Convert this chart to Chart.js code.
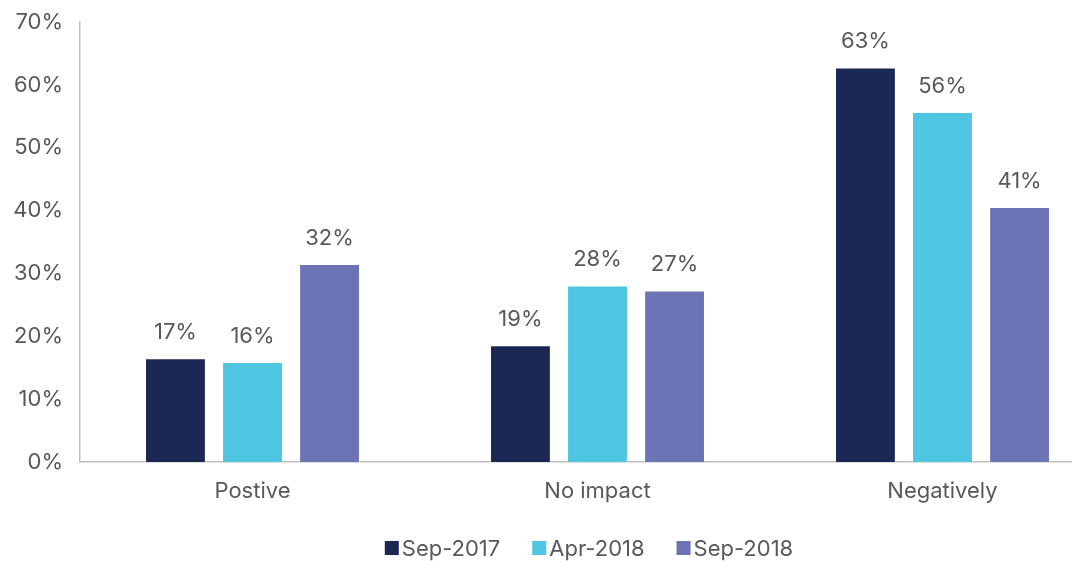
<!DOCTYPE html>
<html>
<head>
<meta charset="utf-8">
<script src="https://cdn.jsdelivr.net/npm/chart.js@4.4.1/dist/chart.umd.min.js"></script>
<style>
  html, body { margin: 0; padding: 0; background: #fff; overflow: hidden; }
  #wrap { position: absolute; left: 0; top: 0; width: 1115px; height: 564px; }
</style>
</head>
<body>
<div id="wrap"><canvas id="chart"></canvas></div>
<script>
const categories = ['Postive', 'No impact', 'Negatively'];
const seriesNames = ['Sep-2017', 'Apr-2018', 'Sep-2018'];
const sep2017 = [16.5, 18.6, 62.8];
const apr2018 = [15.9, 28.1, 55.7];
const sep2018 = [31.5, 27.3, 40.6];
const yTicks = [0, 10, 20, 30, 40, 50, 60, 70];
const colors = ['#1c2854', '#4ec6e2', '#6c74b6'];

const FONT = 'Inter, "Noto Sans", sans-serif';
const TEXT = '#595959';

const valueLabels = {
    id: 'valueLabels',
    afterDatasetsDraw(chart) {
        const ctx = chart.ctx;
        ctx.save();
        ctx.font = '22px ' + FONT;
        ctx.fillStyle = TEXT;
        ctx.textAlign = 'center';
        ctx.textBaseline = 'bottom';
        chart.data.datasets.forEach((ds, i) => {
            chart.getDatasetMeta(i).data.forEach((bar, j) => {
                ctx.fillText(Math.round(ds.data[j]) + '%', bar.x, bar.y - 15);
            });
        });
        ctx.restore();
    }
};

// legend drawn by hand so it can be centred on the visible page
const bottomLegend = {
    id: 'bottomLegend',
    afterDraw(chart) {
        const ctx = chart.ctx;
        ctx.save();
        ctx.font = '22px ' + FONT;
        ctx.textBaseline = 'middle';
        const box = 14, gap = 3, itemGap = 32;
        const widths = seriesNames.map(n => box + gap + ctx.measureText(n).width);
        const total = widths.reduce((a, b) => a + b, 0) + itemGap * (widths.length - 1);
        let x = 589 - total / 2;
        const y = 548;
        seriesNames.forEach((n, i) => {
            ctx.fillStyle = colors[i];
            ctx.fillRect(x, y - box / 2, box, box);
            ctx.fillStyle = TEXT;
            ctx.fillText(n, x + box + gap, y + 1);
            x += widths[i] + itemGap;
        });
        ctx.restore();
    }
};

const series = [sep2017, apr2018, sep2018];

new Chart(document.getElementById('chart'), {
    type: 'bar',
    data: {
        labels: categories,
        datasets: series.map((d, i) => ({
            label: seriesNames[i],
            data: d,
            backgroundColor: colors[i],
            borderColor: 'rgba(255,255,255,0.35)',
            borderWidth: 1,
            categoryPercentage: 0.67,
            barPercentage: 0.79
        }))
    },
    options: {
        responsive: true,
        maintainAspectRatio: false,
        animation: false,
        layout: { padding: { top: 9, right: 0, bottom: 0, left: 0 } },
        plugins: {
            legend: { display: false },
            tooltip: { enabled: false }
        },
        scales: {
            x: {
                grid: { display: false },
                border: { display: true, color: '#bfbfbf', width: 1.5 },
                ticks: { color: TEXT, font: { family: FONT, size: 22 }, padding: 8 },
                afterFit(s) { s.height = 102; }
            },
            y: {
                min: 0,
                max: 70,
                afterBuildTicks(s) { s.ticks = yTicks.map(v => ({ value: v })); },
                grid: { display: false },
                border: { display: true, color: '#bfbfbf', width: 1.5 },
                ticks: {
                    color: TEXT,
                    font: { family: FONT, size: 22 },
                    padding: 9,
                    callback: v => v + '%'
                },
                afterFit(s) { s.width = 80; }
            }
        }
    },
    plugins: [valueLabels, bottomLegend]
});
</script>
</body>
</html>
